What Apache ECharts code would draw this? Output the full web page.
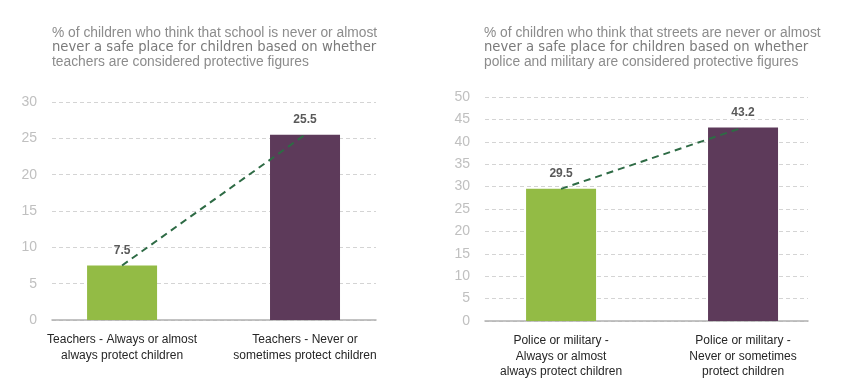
<!DOCTYPE html>
<html>
<head>
<meta charset="utf-8">
<script src="https://cdn.jsdelivr.net/npm/echarts@6/dist/echarts.min.js"></script>
<style>html,body{margin:0;padding:0;background:#fff}#c{width:850px;height:392px}</style>
</head>
<body>
<div id="c"></div>
<script>
const leftTitle = ['% of children who think that school is never or almost', 'never a safe place for children based on whether', 'teachers are considered protective figures'];
const rightTitle = ['% of children who think that streets are never or almost', 'never a safe place for children based on whether', 'police and military are considered protective figures'];
const leftCategories = ['Teachers - Always or almost\nalways protect children', 'Teachers - Never or\nsometimes protect children'];
const leftValues = [7.5, 25.5];
const rightCategories = ['Police or military -\nAlways or almost\nalways protect children', 'Police or military -\nNever or sometimes\nprotect children'];
const rightValues = [29.5, 43.2];
const leftAxis = { max: 30, interval: 5 };
const rightAxis = { max: 50, interval: 5 };
const barColors = ['#93bb45', '#5d3a5a'];

const sans = '"Liberation Sans", Arial, sans-serif';

function titleOpt(lines, left) {
  return {
    left: left, top: 26, padding: 0,
    text: '{a|' + lines[0] + '}\n{b|' + lines[1] + '}\n{a|' + lines[2] + '}',
    textStyle: {
      fontWeight: 'normal',
      rich: {
        a: { fontFamily: sans, fontSize: 13.8, fontWeight: 'normal', color: '#8c8c8c', lineHeight: 14.5 },
        b: { fontFamily: 'DejaVu Sans', fontSize: 13.2, fontWeight: 'normal', color: '#7a7a7a', lineHeight: 14.5 }
      }
    }
  };
}

function xAxisOpt(gridIndex, cats, min, max) {
  return {
    type: 'value', gridIndex: gridIndex, min: min, max: max,
    axisLine: { show: true, onZero: true, lineStyle: { color: '#b0b0b0', width: 1.5 } },
    axisTick: { show: false },
    splitLine: { show: false },
    axisLabel: {
      customValues: [0, 1],
      formatter: v => cats[Math.round(v)],
      fontFamily: sans, fontSize: 12, color: '#262626', lineHeight: 15.5, margin: 12
    }
  };
}

function yAxisOpt(gridIndex, ax) {
  return {
    type: 'value', gridIndex: gridIndex, min: 0, max: ax.max, interval: ax.interval,
    axisLine: { show: false }, axisTick: { show: false },
    splitLine: { lineStyle: { color: '#d4d4d4', type: [4, 3], width: 1 } },
    axisLabel: { fontFamily: sans, fontSize: 14, color: '#c0c0c0', margin: 15 }
  };
}

function barSeries(idx, vals) {
  return {
    type: 'bar', xAxisIndex: idx, yAxisIndex: idx, barWidth: 70,
    data: vals.map((v, i) => ({ value: [i, v], itemStyle: { color: barColors[i] } })),
    label: {
      show: true, position: 'top', distance: 9,
      formatter: p => String(vals[p.dataIndex]),
      fontFamily: sans, fontSize: 12, fontWeight: 'bold', color: '#595959'
    },
    z: 2
  };
}

function lineSeries(idx, vals) {
  return {
    type: 'line', xAxisIndex: idx, yAxisIndex: idx, symbol: 'none', silent: true,
    data: vals.map((v, i) => [i, v]),
    lineStyle: { color: '#2e6b45', width: 2, type: [7, 5] },
    z: 3
  };
}

const chart = echarts.init(document.getElementById('c'), null, { renderer: 'canvas' });
chart.setOption({
  animation: false,
  backgroundColor: '#fff',
  title: [titleOpt(leftTitle, 52), titleOpt(rightTitle, 484)],
  grid: [
    { left: 52, right: 474, top: 102, bottom: 72 },
    { left: 485, right: 42, top: 97, bottom: 71 }
  ],
  xAxis: [xAxisOpt(0, leftCategories, -0.383, 1.388), xAxisOpt(1, rightCategories, -0.418, 1.357)],
  yAxis: [yAxisOpt(0, leftAxis), yAxisOpt(1, rightAxis)],
  series: [barSeries(0, leftValues), lineSeries(0, leftValues), barSeries(1, rightValues), lineSeries(1, rightValues)]
});
</script>
</body>
</html>
